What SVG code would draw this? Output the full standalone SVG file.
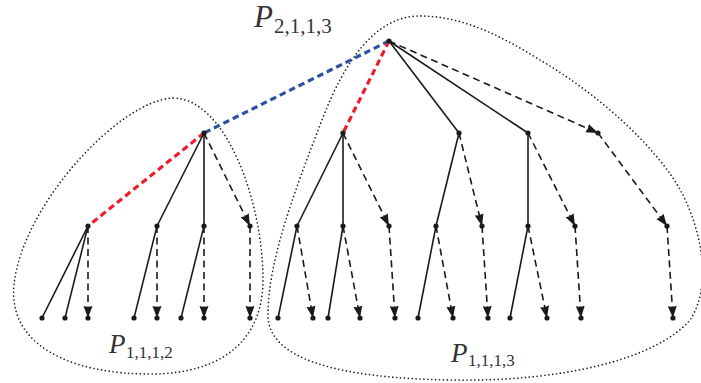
<svg xmlns="http://www.w3.org/2000/svg" width="701" height="383" viewBox="0 0 701 383">
<style>
.outline{fill:none;stroke:#222;stroke-width:1.7;stroke-dasharray:0 3.9;stroke-linecap:round}
.solid{stroke:#1a1a1a;stroke-width:1.6;fill:none}
.dash{stroke:#1a1a1a;stroke-width:1.6;fill:none;stroke-dasharray:7 4.5}
.arr{marker-end:url(#ah)}
.blue{stroke:#2d52a3;stroke-width:3.2;fill:none;stroke-dasharray:6.5 4}
.red{stroke:#ee1d2b;stroke-width:3.2;fill:none;stroke-dasharray:6.5 4}
.dot{fill:#1a1a1a}
.lbl{font-family:"Liberation Serif",serif;fill:#333}
</style>
<defs>
<marker id="ah" markerUnits="userSpaceOnUse" markerWidth="14" markerHeight="11" refX="12" refY="5" orient="auto">
<path d="M0,0.5 L12,5 L0,9.5 L1,5 Z" fill="#1a1a1a"/>
</marker>
</defs>
<g id="outlines">
<path class="outline" d="M173,98 C120,100 22,205 14,285 C8,345 70,374 150,374 C228,374 263,335 263,280 C263,200 225,98 173,98 Z"/>
<path class="outline" d="M417,16 C375,18 345,60 322,120 C295,190 268,260 268,315 C268,360 340,378 450,380 C560,382 655,360 690,320 C710,290 705,240 683,195 C660,150 600,95 540,60 C500,35 460,15 417,16 Z"/>
</g>
<g id="connectors">
<line class="blue" x1="389" y1="41" x2="204" y2="133"/>
<line class="red" x1="389" y1="41" x2="343" y2="133"/>
<line class="solid" x1="389" y1="41" x2="459" y2="133"/>
<line class="solid" x1="389" y1="41" x2="528" y2="133"/>
<line class="dash arr" x1="389" y1="41" x2="598" y2="133"/>
<line class="red" x1="204" y1="133" x2="88" y2="226"/>
<line class="solid" x1="204" y1="133" x2="157" y2="226"/>
<line class="solid" x1="204" y1="133" x2="204" y2="226"/>
<line class="dash arr" x1="204" y1="133" x2="250" y2="226"/>
<line class="solid" x1="343" y1="133" x2="297" y2="226"/>
<line class="solid" x1="343" y1="133" x2="343" y2="226"/>
<line class="dash arr" x1="343" y1="133" x2="389" y2="226"/>
<line class="solid" x1="459" y1="133" x2="436" y2="226"/>
<line class="dash arr" x1="459" y1="133" x2="482" y2="226"/>
<line class="solid" x1="528" y1="133" x2="528" y2="226"/>
<line class="dash arr" x1="528" y1="133" x2="575" y2="226"/>
<line class="dash arr" x1="598" y1="133" x2="667" y2="226"/>
<line class="solid" x1="88" y1="226" x2="42" y2="318"/>
<line class="solid" x1="88" y1="226" x2="65" y2="318"/>
<line class="dash arr" x1="88" y1="226" x2="88" y2="318"/>
<line class="solid" x1="157" y1="226" x2="134" y2="318"/>
<line class="dash arr" x1="157" y1="226" x2="157" y2="318"/>
<line class="solid" x1="204" y1="226" x2="181" y2="318"/>
<line class="dash arr" x1="204" y1="226" x2="204" y2="318"/>
<line class="dash arr" x1="250" y1="226" x2="250" y2="318"/>
<line class="solid" x1="297" y1="226" x2="278" y2="318"/>
<line class="dash arr" x1="297" y1="226" x2="313" y2="318"/>
<line class="solid" x1="343" y1="226" x2="328" y2="318"/>
<line class="dash arr" x1="343" y1="226" x2="360" y2="318"/>
<line class="dash arr" x1="389" y1="226" x2="395" y2="318"/>
<line class="solid" x1="436" y1="226" x2="418" y2="318"/>
<line class="dash arr" x1="436" y1="226" x2="453" y2="318"/>
<line class="dash arr" x1="482" y1="226" x2="488" y2="318"/>
<line class="solid" x1="528" y1="226" x2="510" y2="318"/>
<line class="dash arr" x1="528" y1="226" x2="547" y2="318"/>
<line class="dash arr" x1="575" y1="226" x2="581" y2="318"/>
<line class="dash arr" x1="667" y1="226" x2="673" y2="318"/>
</g>
<g id="root"><circle class="dot" cx="389" cy="41" r="2.6"/></g>
<g id="level1">
<circle class="dot" cx="204" cy="133" r="2.6"/><circle class="dot" cx="343" cy="133" r="2.6"/><circle class="dot" cx="459" cy="133" r="2.6"/><circle class="dot" cx="528" cy="133" r="2.6"/><circle class="dot" cx="598" cy="133" r="2.6"/>
</g>
<g id="level2">
<circle class="dot" cx="88" cy="226" r="2.6"/><circle class="dot" cx="157" cy="226" r="2.6"/><circle class="dot" cx="204" cy="226" r="2.6"/><circle class="dot" cx="250" cy="226" r="2.6"/>
<circle class="dot" cx="297" cy="226" r="2.6"/><circle class="dot" cx="343" cy="226" r="2.6"/><circle class="dot" cx="389" cy="226" r="2.6"/><circle class="dot" cx="436" cy="226" r="2.6"/><circle class="dot" cx="482" cy="226" r="2.6"/><circle class="dot" cx="528" cy="226" r="2.6"/><circle class="dot" cx="575" cy="226" r="2.6"/><circle class="dot" cx="667" cy="226" r="2.6"/>
</g>
<g id="leaves">
<circle class="dot" cx="42" cy="318" r="2.6"/><circle class="dot" cx="65" cy="318" r="2.6"/><circle class="dot" cx="88" cy="318" r="2.6"/><circle class="dot" cx="134" cy="318" r="2.6"/><circle class="dot" cx="157" cy="318" r="2.6"/><circle class="dot" cx="181" cy="318" r="2.6"/><circle class="dot" cx="204" cy="318" r="2.6"/><circle class="dot" cx="250" cy="318" r="2.6"/>
<circle class="dot" cx="278" cy="318" r="2.6"/><circle class="dot" cx="313" cy="318" r="2.6"/><circle class="dot" cx="328" cy="318" r="2.6"/><circle class="dot" cx="360" cy="318" r="2.6"/><circle class="dot" cx="395" cy="318" r="2.6"/><circle class="dot" cx="418" cy="318" r="2.6"/><circle class="dot" cx="453" cy="318" r="2.6"/><circle class="dot" cx="488" cy="318" r="2.6"/><circle class="dot" cx="510" cy="318" r="2.6"/><circle class="dot" cx="547" cy="318" r="2.6"/><circle class="dot" cx="581" cy="318" r="2.6"/><circle class="dot" cx="673" cy="318" r="2.6"/>
</g>
<g id="labels">
<text class="lbl" x="254" y="27" font-size="31" font-style="italic">P</text>
<text class="lbl" x="274" y="33" font-size="21">2,1,1,3</text>
<text class="lbl" x="109" y="353" font-size="27" font-style="italic">P</text>
<text class="lbl" x="126" y="358" font-size="17">1,1,1,2</text>
<text class="lbl" x="451" y="362" font-size="27" font-style="italic">P</text>
<text class="lbl" x="468" y="366" font-size="17">1,1,1,3</text>
</g>
</svg>
